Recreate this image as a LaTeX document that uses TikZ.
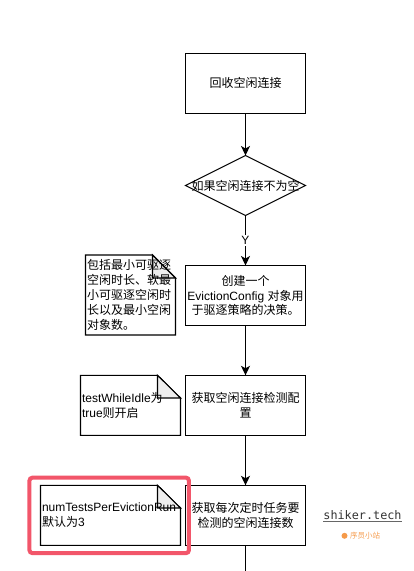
\documentclass[tikz,border=0pt]{standalone}
\usepackage{fontspec}
\setmainfont{Liberation Sans}
\newfontfamily\cjk{Noto Sans CJK SC}
\newfontfamily\wm{DejaVu Sans Mono}
\usetikzlibrary{shapes.geometric,arrows.meta}
\definecolor{alertred}{HTML}{F2566A}
\definecolor{foldgrey}{HTML}{EDEDED}
\definecolor{wmorange}{HTML}{F59A4A}
\newcommand{\tightlines}{\fontsize{12}{14.8}\selectfont\lineskiplimit=-100pt\relax}
\tikzset{
  x=1pt,y=-1pt,
  every node/.style={inner sep=0pt,outer sep=0pt},
  procbox/.style={draw=black,line width=1.1pt,minimum width=120pt,minimum height=60pt,align=center,font=\tightlines},
  decision/.style={draw=black,line width=1.1pt,diamond,aspect=2,minimum width=120pt,minimum height=60pt,inner sep=0pt,font=\tightlines},
  notetext/.style={align=left,anchor=west,font=\tightlines},
  noteline/.style={draw=black,line width=1.1pt,line join=miter},
  foldpart/.style={draw=black,line width=1.1pt,fill=foldgrey},
  flow/.style={draw=black,line width=1.1pt,-{Stealth[length=9.5pt,width=9pt,inset=2.5pt]}},
  plainflow/.style={draw=black,line width=1.1pt},
}
\begin{document}
\begin{tikzpicture}
\useasboundingbox (0,0) rectangle (414,571);
% process boxes
\node[procbox] (b1) at (245.5,83.3) {{\cjk 回收空闲连接}};
\node[decision] (d1) at (245.5,185.5) {\makebox[0pt][c]{\cjk 如果空闲连接不为空}};
\node[procbox] (b2) at (245.5,295.5) {{\cjk 创建一个}\\EvictionConfig {\cjk 对象用}\\{\cjk 于驱逐策略的决策。}};
\node[procbox] (b3) at (245.5,405.3) {{\cjk 获取空闲连接检测配}\\{\cjk 置}};
\node[procbox] (b4) at (245.5,515.3) {{\cjk 获取每次定时任务要}\\{\cjk 检测的空闲连接数}};
\coordinate (bottomend) at (245.5,571);
% connectors
\draw[flow] (b1) -- (d1);
\draw[flow] (d1) -- node[pos=0.5,fill=white,inner sep=1.5pt,font=\fontsize{12}{12}\selectfont] (ylabel) {Y} (b2);
\draw[flow] (b2) -- (b3);
\draw[flow] (b3) -- (b4);
\draw[plainflow] (b4) -- (bottomend);
% notes
\draw[noteline] (85.5,255) -- (152.5,255) -- (175.5,278) -- (175.5,335) -- (85.5,335) -- cycle;
\draw[foldpart] (152.5,255) -- (152.5,278) -- (175.5,278) -- cycle;
\node[notetext] (n1) at (87,295) {{\cjk 包括最小可驱逐}\\{\cjk 空闲时长、软最}\\{\cjk 小可驱逐空闲时}\\{\cjk 长以及最小空闲}\\{\cjk 对象数。}};
\draw[noteline] (80.5,375.3) -- (157.5,375.3) -- (180.5,398) -- (180.5,435.3) -- (80.5,435.3) -- cycle;
\draw[foldpart] (157.5,375.3) -- (157.5,398) -- (180.5,398) -- cycle;
\node[notetext] (n2) at (82,405.3) {testWhileIdle{\cjk 为}\\true{\cjk 则开启}};
\draw[noteline] (40.5,485.3) -- (157.5,485.3) -- (180.5,508) -- (180.5,545.3) -- (40.5,545.3) -- cycle;
\draw[foldpart] (157.5,485.3) -- (157.5,508) -- (180.5,508) -- cycle;
\node[notetext] (n3) at (42,515.3) {numTestsPerEvictionRun\\{\cjk 默认为}3};
% highlight
\node[draw=alertred,line width=4pt,rounded corners=3pt,minimum width=159.5pt,minimum height=75.5pt] (hl) at (109.2,515.4) {};
% watermark
\node[font=\wm\fontsize{11.8}{12}\selectfont,text=black!80] (w1) at (362.5,515) {shiker.tech};
\draw[black!60,line width=0.8pt] (w1.west |- 0,521.5) -- (w1.east |- 0,521.5);
\fill[wmorange] (344.5,535.8) circle (3pt);
\node[font=\cjk\fontsize{7.5}{7.5}\selectfont,text=wmorange] (w2) at (365,536) {序员小站};
\end{tikzpicture}
\end{document}
